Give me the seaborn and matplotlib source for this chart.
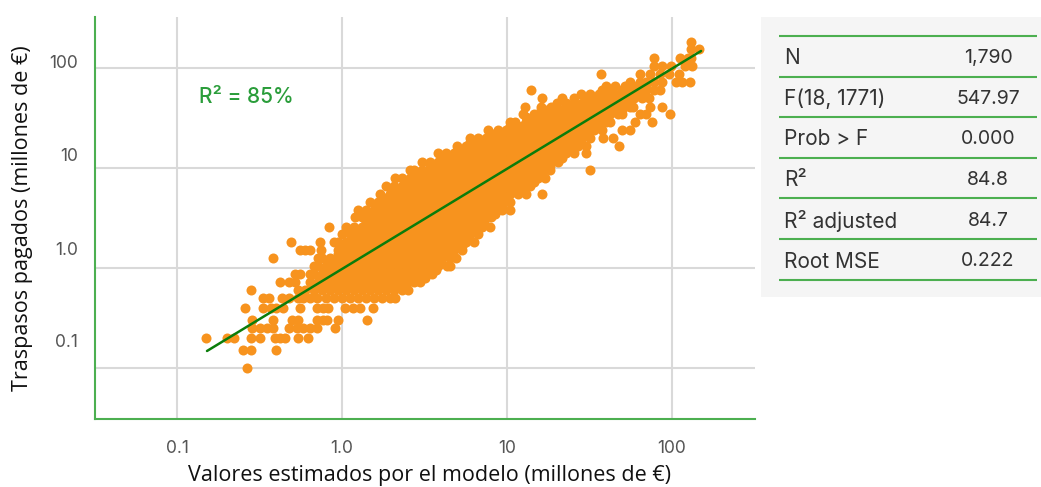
"""Transfer fees paid against model estimates, with the regression summary table."""

import pandas as pd
import seaborn as sns
import matplotlib.pyplot as plt

# fee paid (millions of EUR), fees cluster on round amounts so points are read row by row
FEE_LEVELS = [0.1, 0.15, 0.2, 0.25, 0.3, 0.4, 0.5, 0.6, 0.72, 0.87, 1.05, 1.26, 1.5, 1.8, 2.2, 2.6,
              3.2, 3.8, 4.6, 5.5, 6.6, 8, 9.5, 11.5, 14, 16.5, 20, 24, 29, 35, 41, 50, 60, 72, 87,
              105, 125, 155, 180]

# model estimate (millions of EUR) for each fee level above
ESTIMATES = [
    [0.265],
    [0.25, 0.28, 0.40],
    [0.15, 0.20, 0.22, 0.28, 0.32, 0.39, 0.42, 0.45, 0.54, 0.62],
    [0.285, 0.32, 0.35, 0.38, 0.48, 0.53, 0.58, 0.64, 0.71, 0.91],
    [0.285, 0.38, 0.50, 0.54, 0.71, 0.77, 0.81, 0.95, 1.41],
    [0.26, 0.33, 0.37, 0.40, 0.44, 0.56, 0.71, 0.77, 0.82, 1.04, 1.17, 1.29, 1.54],
    [0.33, 0.36, 0.43, 0.48, 0.54, 0.58, 0.64, 0.71, 0.80, 0.89, 1.0, 1.12, 1.25, 1.4, 1.56, 1.75, 1.95, 2.1],
    [0.28, 0.54, 0.60, 0.68, 0.76, 0.85, 0.95, 1.06, 1.18, 1.32, 1.48, 1.65, 1.85, 2.06, 2.31, 2.5],
    [0.42, 0.48, 0.52, 0.64, 0.72, 0.80, 0.89, 1.0, 1.12, 1.25, 1.4, 1.56, 1.75, 1.95, 2.18, 2.44, 2.73, 2.95],
    [0.52, 0.56, 0.64, 0.68, 0.76, 0.85, 0.95, 1.06, 1.18, 1.32, 1.48, 1.65, 1.85, 2.06, 2.31, 2.58, 2.89, 3.23, 3.5],
    [0.68, 0.72, 0.80, 0.89, 1.0, 1.12, 1.25, 1.4, 1.56, 1.75, 1.95, 2.18, 2.44, 2.73, 3.05, 3.41, 3.82, 4.3, 4.5],
    [0.38, 0.72, 0.76, 0.85, 0.95, 1.06, 1.18, 1.32, 1.48, 1.65, 1.85, 2.06, 2.31, 2.58, 2.89, 3.23, 3.61, 4.04, 4.51, 4.9],
    [0.56, 0.60, 0.64, 0.75, 0.95, 1.0, 1.12, 1.25, 1.4, 1.56, 1.75, 1.95, 2.18, 2.44, 2.73, 3.05, 3.41, 3.82, 4.27, 4.77, 5.3],
    [0.49, 0.74, 0.90, 0.95, 1.06, 1.18, 1.32, 1.48, 1.65, 1.85, 2.06, 2.31, 2.58, 2.89, 3.23, 3.61, 4.04, 4.51, 5.05, 5.64, 6.3],
    [1.0, 1.12, 1.25, 1.4, 1.56, 1.75, 1.95, 2.18, 2.44, 2.73, 3.05, 3.41, 3.82, 4.27, 4.77, 5.34, 5.97, 6.67],
    [0.83, 1.06, 1.18, 1.32, 1.48, 1.65, 1.85, 2.06, 2.31, 2.58, 2.89, 3.23, 3.61, 4.04, 4.51, 5.05, 5.64, 6.31, 7.05, 7.89],
    [1.2, 1.32, 1.48, 1.65, 1.85, 2.06, 2.31, 2.58, 2.89, 3.23, 3.61, 4.04, 4.51, 5.05, 5.64, 6.31, 7.05, 8.0],
    [1.25, 1.4, 1.56, 1.75, 1.95, 2.18, 2.44, 2.73, 3.05, 3.41, 3.82, 4.27, 4.77, 5.34, 5.97, 6.67, 7.46, 8.34, 9.3, 10.4],
    [1.48, 1.65, 1.85, 2.06, 2.31, 2.58, 2.89, 3.23, 3.61, 4.04, 4.51, 5.05, 5.64, 6.31, 7.05, 7.89, 8.82, 9.6, 10.4],
    [1.7, 1.95, 2.18, 2.44, 2.73, 3.05, 3.41, 3.82, 4.27, 4.77, 5.34, 5.97, 6.67, 7.46, 8.34, 9.33, 10.4, 11.7, 13.0, 16.3],
    [1.85, 2.06, 2.31, 2.58, 2.89, 3.23, 3.61, 4.04, 4.51, 5.05, 5.64, 6.31, 7.05, 7.89, 8.82, 9.86, 11.0, 12.3, 13.8],
    [2.1, 2.31, 2.58, 2.89, 3.23, 3.61, 4.04, 4.51, 5.05, 5.64, 6.31, 7.05, 7.89, 8.82, 9.86, 11.0, 12.3, 13.8, 15.4, 17.0],
    [2.58, 2.73, 3.05, 3.41, 3.82, 4.27, 4.77, 5.34, 5.97, 6.67, 7.46, 8.34, 9.33, 10.4, 11.7, 13.0, 14.6, 16.3, 18.2, 32.0],
    [3.05, 3.41, 3.82, 4.27, 4.77, 5.34, 5.97, 6.67, 7.46, 8.34, 9.33, 10.4, 11.7, 13.0, 14.6, 16.3, 18.2, 20.4],
    [3.82, 4.27, 4.77, 5.34, 5.97, 6.67, 7.46, 8.34, 9.33, 10.4, 11.7, 13.0, 14.6, 16.3, 18.2, 20.4, 22.8, 25.5, 30.1],
    [5.0, 5.64, 6.31, 7.05, 7.89, 8.82, 9.86, 11.0, 12.3, 13.8, 15.4, 17.2, 19.3, 21.5, 24.1, 26.9, 30.0, 48.0],
    [6.0, 6.67, 7.46, 8.34, 9.33, 10.4, 11.7, 13.0, 14.6, 16.3, 18.2, 20.4, 22.8, 25.5, 28.5, 31.9, 38.0, 44.0],
    [7.7, 8.82, 9.86, 11.0, 12.3, 13.8, 15.4, 17.2, 19.3, 21.5, 24.1, 26.9, 30.1, 33.7, 37.6, 50.0, 56.0],
    [10.4, 11.2, 13.0, 14.6, 16.3, 18.2, 20.4, 22.8, 25.5, 28.5, 31.9, 35.6, 39.8, 42.0, 60.0, 76.0],
    [12.5, 14.6, 17.2, 19.3, 21.5, 24.1, 26.9, 30.1, 33.7, 37.6, 42.1, 47.0, 50.0, 64.0, 70.0, 97.0],
    [12.8, 16.0, 18.5, 22.8, 25.5, 28.5, 31.9, 35.6, 39.8, 44.5, 49.8, 55.7, 58.0, 74.0, 87.0],
    [16.4, 21.5, 25.5, 30.0, 33.7, 37.6, 42.1, 47.0, 52.6, 58.8, 65.8, 73.0],
    [14.0, 37.6, 42.0, 49.8, 55.7, 62.2, 69.6, 77.8, 85.0],
    [56.0, 64.0, 70.0, 78.0, 87.0, 105.0, 115.0, 129.0],
    [37.0, 64.0, 74.0, 85.0, 96.0, 110.0],
    [78.0, 87.0, 98.0, 120.0, 132.0],
    [78.0, 112.0, 125.0, 130.0],
    [130.0, 146.0],
    [130.0],
]

# the solid middle of the cloud, between the round fee levels
CORE_LEVELS = [0.66, 0.8, 0.95, 1.15, 1.38, 1.65, 2.0, 2.4, 2.9, 3.5, 4.2, 5, 6, 7.3, 8.7, 10.5,
               12.7, 15, 18, 22, 26.5, 32, 38, 45, 55, 66]

CORE_ESTIMATES = [
    [0.72, 0.80, 0.89, 1.0, 1.12, 1.25, 1.4, 1.56, 1.75, 1.95, 2.18, 2.44],
    [0.76, 0.85, 0.95, 1.06, 1.18, 1.32, 1.48, 1.65, 1.85, 2.06, 2.31, 2.58, 2.89, 3.2],
    [0.80, 0.89, 1.0, 1.12, 1.25, 1.4, 1.56, 1.75, 1.95, 2.18, 2.44, 2.73, 3.05, 3.41, 3.7],
    [0.85, 0.95, 1.06, 1.18, 1.32, 1.48, 1.65, 1.85, 2.06, 2.31, 2.58, 2.89, 3.23, 3.61, 4.0],
    [0.95, 1.03, 1.12, 1.25, 1.4, 1.56, 1.75, 1.95, 2.18, 2.44, 2.73, 3.05, 3.41, 3.82, 4.27, 4.5],
    [1.0, 1.06, 1.18, 1.32, 1.48, 1.65, 1.85, 2.06, 2.31, 2.58, 2.89, 3.23, 3.61, 4.04, 4.51, 5.05, 5.3],
    [1.18, 1.25, 1.4, 1.56, 1.75, 1.95, 2.18, 2.44, 2.73, 3.05, 3.41, 3.82, 4.27, 4.77, 5.34, 5.9],
    [1.25, 1.32, 1.48, 1.65, 1.85, 2.06, 2.31, 2.58, 2.89, 3.23, 3.61, 4.04, 4.51, 5.05, 5.64, 6.5],
    [1.4, 1.56, 1.75, 1.95, 2.18, 2.44, 2.73, 3.05, 3.41, 3.82, 4.27, 4.77, 5.34, 5.97, 6.67, 7.3],
    [1.56, 1.65, 1.85, 2.06, 2.31, 2.58, 2.89, 3.23, 3.61, 4.04, 4.51, 5.05, 5.64, 6.31, 7.05, 7.89, 8.5],
    [1.65, 1.75, 1.95, 2.18, 2.44, 2.73, 3.05, 3.41, 3.82, 4.27, 4.77, 5.34, 5.97, 6.67, 7.46, 8.34, 9.3],
    [1.85, 2.06, 2.31, 2.58, 2.89, 3.23, 3.61, 4.04, 4.51, 5.05, 5.64, 6.31, 7.05, 7.89, 8.82, 10.0],
    [2.06, 2.18, 2.44, 2.73, 3.05, 3.41, 3.82, 4.27, 4.77, 5.34, 5.97, 6.67, 7.46, 8.34, 9.33, 10.4, 11.7, 12.3],
    [2.4, 2.58, 2.89, 3.23, 3.61, 4.04, 4.51, 5.05, 5.64, 6.31, 7.05, 7.89, 8.82, 9.86, 11.0, 12.3, 13.8, 14.6],
    [2.7, 3.05, 3.41, 3.82, 4.27, 4.77, 5.34, 5.97, 6.67, 7.46, 8.34, 9.33, 10.4, 11.7, 13.0, 14.6, 16.3],
    [3.4, 3.61, 4.04, 4.51, 5.05, 5.64, 6.31, 7.05, 7.89, 8.82, 9.86, 11.0, 12.3, 13.8, 15.4, 17.2, 18.2],
    [4.0, 4.27, 4.77, 5.34, 5.97, 6.67, 7.46, 8.34, 9.33, 10.4, 11.7, 13.0, 14.6, 16.3, 18.2, 20.4, 21.5],
    [5.0, 5.34, 5.97, 6.67, 7.46, 8.34, 9.33, 10.4, 11.7, 13.0, 14.6, 16.3, 18.2, 20.4, 22.8, 24.0],
    [6.0, 6.31, 7.05, 7.89, 8.82, 9.86, 11.0, 12.3, 13.8, 15.4, 17.2, 19.3, 21.5, 24.1, 27.0],
    [8.0, 8.34, 9.33, 10.4, 11.7, 13.0, 14.6, 16.3, 18.2, 20.4, 22.8, 25.5, 28.5, 31.0],
    [10.4, 11.0, 12.3, 13.8, 15.4, 17.2, 19.3, 21.5, 24.1, 26.9, 30.1, 33.7, 36.0],
    [13.0, 14.6, 16.3, 18.2, 20.4, 22.8, 25.5, 28.5, 31.9, 35.6, 39.8],
    [16.0, 17.2, 19.3, 21.5, 24.1, 26.9, 30.1, 33.7, 37.6, 42.1, 47.0, 50.0],
    [20.0, 22.8, 25.5, 28.5, 31.9, 35.6, 39.8, 44.5, 49.8, 56.0],
    [28.0, 31.9, 36.0, 39.8, 44.5, 49.8, 55.7, 62.2, 64.0],
    [40.0, 45.0, 52.0, 58.0, 64.0, 70.0],
]

FIT_EST = [0.152, 150]
FIT_FEE = [0.148, 148]

GRID_TICKS = [0.1, 1, 10, 100]
X_TICK_LABELS = ['0.1', '1.0', '10', '100']
# the y labels sit a little above their gridlines in the source
Y_LABEL_POS = [0.19, 1.58, 13.5, 115]
Y_TICK_LABELS = ['0.1', '1.0', '10', '100']

TABLE_NAMES = ['N', 'F(18, 1771)', 'Prob > F', 'R²', 'R² adjusted', 'Root MSE']
TABLE_VALUES = ['1,790', '547.97', '0.000', '84.8', '84.7', '0.222']

ORANGE = '#F7931E'
LINE_GREEN = '#0B7D0B'
RULE_GREEN = '#4CAF50'
TEXT_DARK = '#333333'
W, H = 1041, 487


def main():
    sns.set_theme(style = 'whitegrid')
    plt.rcParams['font.family'] = ['Inter', 'DejaVu Sans']

    rows = [(est, fee) for fee, ests in zip(FEE_LEVELS + CORE_LEVELS, ESTIMATES + CORE_ESTIMATES) for est in ests]
    points = pd.DataFrame(rows, columns = ['estimate', 'fee'])

    fig = plt.figure(figsize = (W / 100, H / 100), dpi = 100, facecolor = 'white')
    ax = fig.add_axes([95 / W, (H - 419) / H, 660 / W, 402 / H])

    sns.scatterplot(data = points, x = 'estimate', y = 'fee', color = ORANGE, s = 52,
                    linewidth = 0, alpha = 1, ax = ax, zorder = 3)
    sns.lineplot(x = FIT_EST, y = FIT_FEE, color = LINE_GREEN, linewidth = 1.8, ax = ax, zorder = 4)

    ax.set_xscale('log')
    ax.set_yscale('log')
    ax.set_xlim(10 ** -1.497, 10 ** 2.503)
    ax.set_ylim(10 ** -1.51, 10 ** 2.51)

    ax.set_xticks(GRID_TICKS, labels = X_TICK_LABELS)
    ax.set_xticks([], minor = True)
    ax.set_yticks(GRID_TICKS, labels = [])
    ax.set_yticks(Y_LABEL_POS, labels = Y_TICK_LABELS, minor = True)
    ax.grid(True, which = 'major', color = '#D9D9D9', linewidth = 1.5)
    ax.grid(False, which = 'minor')
    ax.tick_params(axis = 'x', which = 'major', length = 0, pad = 15, labelsize = 12.5, labelcolor = '#555555')
    ax.tick_params(axis = 'y', which = 'major', length = 0)
    ax.tick_params(axis = 'y', which = 'minor', length = 0, pad = 12, labelsize = 12.5, labelcolor = '#555555')

    sns.despine(ax = ax)
    for side in ['left', 'bottom']:
        ax.spines[side].set_color(RULE_GREEN)
        ax.spines[side].set_linewidth(1.5)

    ax.set_xlabel('')
    ax.set_ylabel('')
    fig.text(430 / W, 1 - 476 / H, 'Valores estimados por el modelo (millones de €)', ha = 'center', va = 'center',
             fontsize = 15.5, family = 'Open Sans', color = '#111111')
    fig.text(23 / W, 1 - 218 / H, 'Traspasos pagados (millones de €)', ha = 'center', va = 'center',
             rotation = 90, fontsize = 15.5, family = 'Open Sans', color = '#111111')
    fig.text(199 / W, 1 - 97 / H, 'R² = 85%', ha = 'left', va = 'center', fontsize = 15,
             fontweight = 'medium', color = '#2A9D3A')

    # summary table, the panel axes is in image pixels
    panel = fig.add_axes([761 / W, (H - 297) / H, 280 / W, 280 / H], facecolor = '#F5F5F5')
    panel.set_xlim(761, 1041)
    panel.set_ylim(297, 17)
    panel.grid(False)
    panel.set_xticks([])
    panel.set_yticks([])
    for spine in panel.spines.values():
        spine.set_visible(False)

    rule_y = [36, 76.5, 117, 157.5, 198, 239, 280]
    panel.hlines(rule_y, 779, 1037, color = RULE_GREEN, linewidth = 1.5)
    for i, (name, value) in enumerate(zip(TABLE_NAMES, TABLE_VALUES)):
        mid = (rule_y[i] + rule_y[i + 1]) / 2 + 2
        panel.text(784, mid, name, ha = 'left', va = 'center', fontsize = 15, color = TEXT_DARK)
        panel.text(988, mid, value, ha = 'center', va = 'center', fontsize = 14, color = TEXT_DARK)

    fig.savefig('out.png', dpi = 100)
    plt.close(fig)


if __name__ == '__main__':
    main()
